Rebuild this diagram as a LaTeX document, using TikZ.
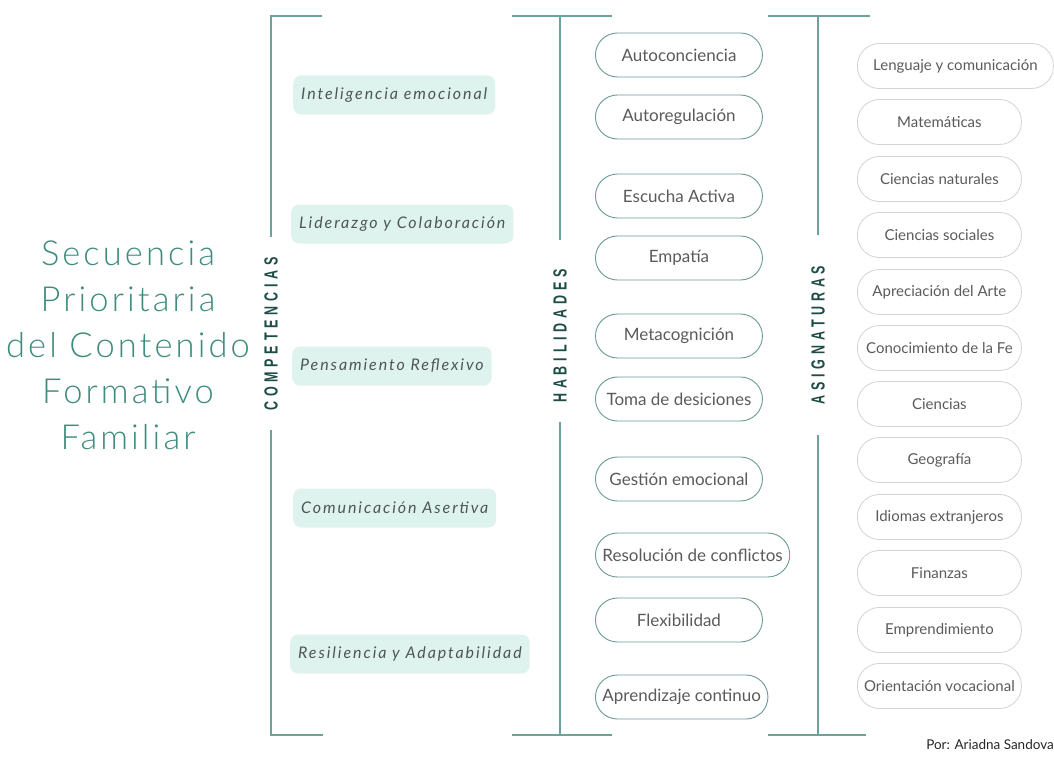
\documentclass[tikz,border=0pt]{standalone}
\usepackage{fontspec}
\setmainfont{Lato}
\newfontfamily\titlefont{Lato Light}[LetterSpace=9]
\newfontfamily\compfont{Lato}[LetterSpace=12]
\newfontfamily\pillfont{Lato}
\newfontfamily\labfont{Liberation Sans}[LetterSpace=38]
\definecolor{titlec}{HTML}{3F8C7E}
\definecolor{linec}{HTML}{6AA39A}
\definecolor{labc}{HTML}{1E4D47}
\definecolor{mint}{HTML}{DFF3EE}
\definecolor{compt}{HTML}{4D5655}
\definecolor{pillt}{HTML}{5B5B5B}
\definecolor{habb}{HTML}{6B9B95}
\definecolor{asigb}{HTML}{D3D3D3}
\begin{document}
\begin{tikzpicture}[x=1pt,y=-1pt,
  bracket/.style={draw=linec,line width=1.3pt},
  comp/.style={fill=mint,rounded corners=8pt,minimum height=39pt,inner xsep=8pt,anchor=west,
    font=\compfont\itshape\fontsize{16}{18}\selectfont,text=compt},
  hab/.style={draw=habb,line width=0.9pt,rounded corners=22pt,minimum width=167pt,minimum height=44pt,
    inner xsep=7pt,anchor=west,font=\pillfont\fontsize{17}{19}\selectfont,text=pillt},
  asig/.style={draw=asigb,line width=0.8pt,rounded corners=22pt,minimum width=164pt,minimum height=45pt,
    inner xsep=6pt,anchor=west,font=\pillfont\fontsize{15}{17}\selectfont,text=pillt},
  vlab/.style={rotate=90,text=labc,font=\labfont\bfseries\fontsize{19}{21}\selectfont,inner sep=0pt}
]
\useasboundingbox[fill=white] (0,0) rectangle (1054,762);

% title
\node[align=center,text=titlec,font=\titlefont\fontsize{34.5}{46}\selectfont] (title) at (128,345)
  {Secuencia\\Prioritaria\\del Contenido\\Formativo\\Familiar};

% brackets
\draw[bracket] (322,16) -- (271,16) -- (271,237);
\draw[bracket] (271,430) -- (271,735) -- (323,735);
\draw[bracket] (512,16) -- (612,16);
\draw[bracket] (560,16) -- (560,240);
\draw[bracket] (560,422) -- (560,735);
\draw[bracket] (512,735) -- (612,735);
\draw[bracket] (768,16) -- (870,16);
\draw[bracket] (818,16) -- (818,235);
\draw[bracket] (818,435) -- (818,735);
\draw[bracket] (768,735) -- (866,735);

% vertical labels
\node[vlab] (lcomp) at (271,334) {\scalebox{0.66}[1]{COMPETENCIAS}};
\node[vlab] (lhab) at (560,336) {\scalebox{0.66}[1]{HABILIDADES}};
\node[vlab] (lasig) at (818,335) {\scalebox{0.66}[1]{ASIGNATURAS}};

% competencias
\node[comp] (c1) at (293,95) {Inteligencia emocional};
\node[comp] (c2) at (291,224) {Liderazgo y Colaboración};
\node[comp] (c3) at (292,366) {Pensamiento Reflexivo};
\node[comp] (c4) at (293,508) {Comunicación Asertiva};
\node[comp] (c5) at (290,654) {Resiliencia y Adaptabilidad};

% habilidades
\node[hab] (h1) at (595,55) {Autoconciencia};
\node[hab] (h2) at (595,117) {Autoregulación};
\node[hab] (h3) at (595,196) {Escucha Activa};
\node[hab] (h4) at (595,258) {Empatía};
\node[hab] (h5) at (595,336) {Metacognición};
\node[hab] (h6) at (595,399) {Toma de desiciones};
\node[hab] (h7) at (595,479) {Gestión emocional};
\node[hab] (h8) at (595,555) {Resolución de conflictos};
\node[hab] (h9) at (595,620) {Flexibilidad};
\node[hab] (h10) at (595,697) {Aprendizaje continuo};

% asignaturas
\node[asig,minimum width=196pt] (a1) at (857,66) {Lenguaje y comunicación};
\node[asig] (a2) at (857,122) {Matemáticas};
\node[asig] (a3) at (857,179) {Ciencias naturales};
\node[asig] (a4) at (857,235) {Ciencias sociales};
\node[asig] (a5) at (857,292) {Apreciación del Arte};
\node[asig] (a6) at (857,348) {Conocimiento de la Fe};
\node[asig] (a7) at (857,404) {Ciencias};
\node[asig] (a8) at (857,460) {Geografía};
\node[asig] (a9) at (857,517) {Idiomas extranjeros};
\node[asig] (a10) at (857,573) {Finanzas};
\node[asig] (a11) at (857,630) {Emprendimiento};
\node[asig] (a12) at (857,686) {Orientación vocacional};

% author
\node[anchor=east,inner sep=0pt,text=black!85,font=\pillfont\fontsize{13.5}{15}\selectfont] (author) at (1054,745) {Por: Ariadna Sandova};
\end{tikzpicture}
\end{document}
